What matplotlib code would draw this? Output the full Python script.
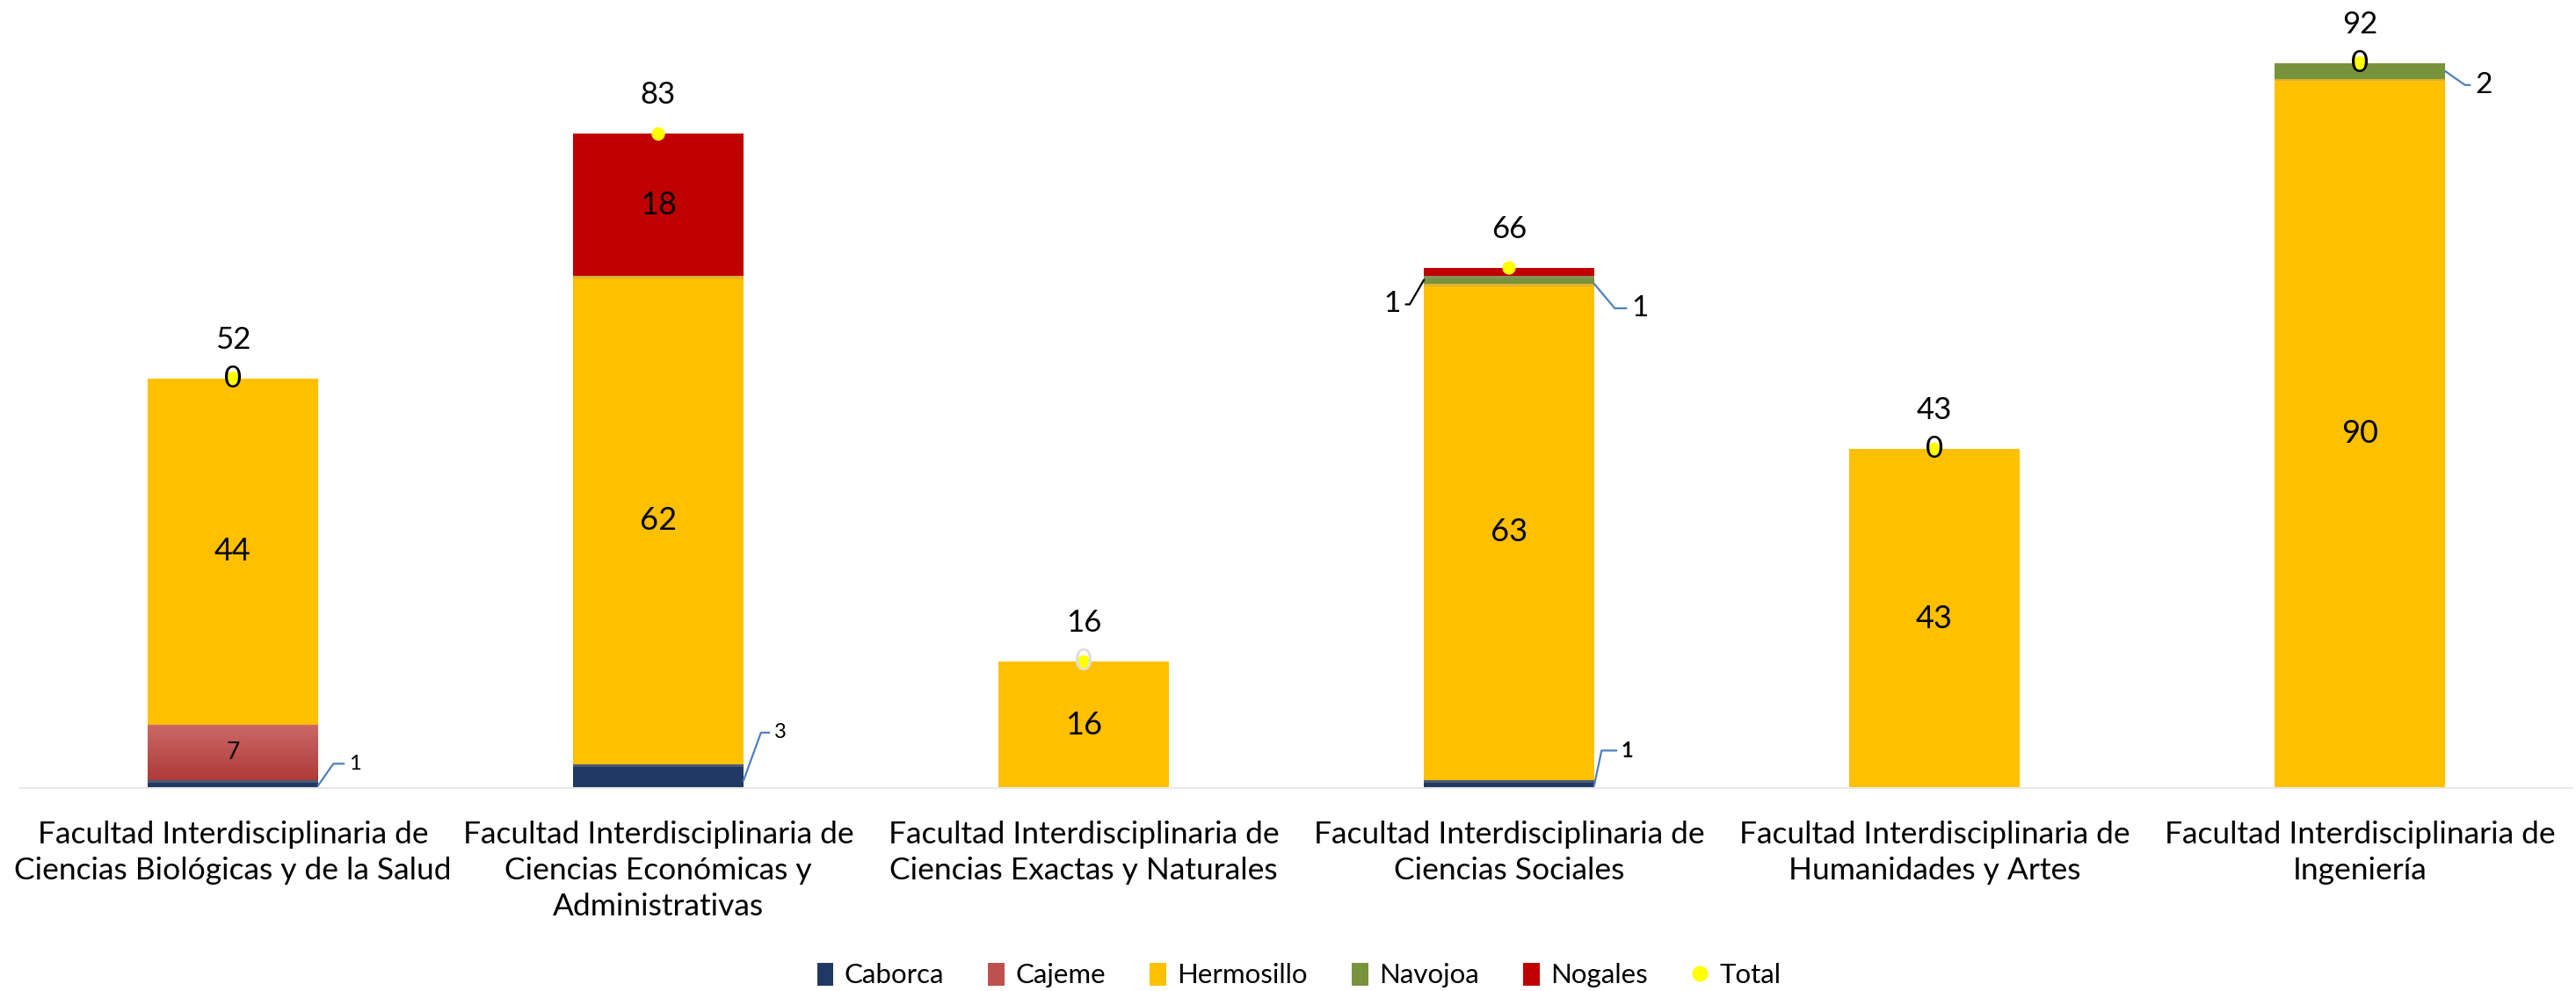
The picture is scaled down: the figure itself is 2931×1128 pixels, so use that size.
import matplotlib
matplotlib.use("Agg")
import matplotlib.pyplot as plt
import numpy as np
from matplotlib.patches import Patch
from matplotlib.lines import Line2D
from matplotlib import patheffects as pe
from matplotlib.colors import LinearSegmentedColormap

categories = [
    "Facultad Interdisciplinaria de\nCiencias Biológicas y de la Salud",
    "Facultad Interdisciplinaria de\nCiencias Económicas y\nAdministrativas",
    "Facultad Interdisciplinaria de\nCiencias Exactas y Naturales",
    "Facultad Interdisciplinaria de\nCiencias Sociales",
    "Facultad Interdisciplinaria de\nHumanidades y Artes",
    "Facultad Interdisciplinaria de\nIngeniería",
]
caborca = [1, 3, 0, 1, 0, 0]
cajeme = [7, 0, 0, 0, 0, 0]
hermosillo = [44, 62, 16, 63, 43, 90]
navojoa = [0, 0, 0, 1, 0, 2]
nogales = [0, 18, 0, 1, 0, 0]
total = [52, 83, 16, 66, 43, 92]
series_names = ["Caborca", "Cajeme", "Hermosillo", "Navojoa", "Nogales"]
series_values = [caborca, cajeme, hermosillo, navojoa, nogales]

colors = {"Caborca": "#203864", "Cajeme": "#C0504D", "Hermosillo": "#FFC000",
          "Navojoa": "#77933C", "Nogales": "#C00000"}
# colour of the "0" label drawn on top of each bar (None = none)
top_zero_color = ["black", None, "#DDDDDD", None, "black", "black"]

FONT = "Lato"
plt.rcParams["font.family"] = [FONT, "DejaVu Sans"]

W, H = 2931, 1128
fig = plt.figure(figsize=(W / 100, H / 100), dpi=100)
ax = fig.add_axes([23 / W, (H - 897) / H, 2904 / W, 897 / H])
x = np.arange(len(categories))
bw = 0.4

bottom = np.zeros(len(categories))
bars = {}
shadow = [pe.SimplePatchShadow(offset=(0, -2), shadow_rgbFace="#999999", alpha=0.35), pe.Normal()]
for name, vals in zip(series_names, series_values):
    vals = np.array(vals, dtype=float)
    b = ax.bar(x, vals, bw, bottom=bottom, color=colors[name], zorder=2,
               linewidth=0)
    for r in b:
        if r.get_height() > 0:
            r.set_path_effects(shadow)
    bars[name] = (b, bottom.copy(), vals)
    bottom = bottom + vals

# gradient for Cajeme
grad = np.linspace(0, 1, 256).reshape(-1, 1)
cmap = LinearSegmentedColormap.from_list("caj", ["#AE3A37", "#CB6967"])
b, bot, vals = bars["Cajeme"]
for i, r in enumerate(b):
    if vals[i] > 0:
        im = ax.imshow(grad, cmap=cmap, aspect="auto", origin="lower",
                       extent=(r.get_x(), r.get_x() + r.get_width(), bot[i], bot[i] + vals[i]),
                       zorder=2.5)
        im.set_clip_path(r)
ax.set_xlim(-0.5, len(categories) - 0.5)
ax.set_ylim(0, 100)

# total markers
ax.plot(x, total, "o", color="#FFFF00", markersize=11, markeredgewidth=0, zorder=4,
        path_effects=[pe.SimpleLineShadow(offset=(0, -1.5), alpha=0.4), pe.Normal()])
for i, t in enumerate(total):
    ax.annotate(str(t), (x[i], t), xytext=(0, 44), textcoords="offset pixels",
                ha="center", va="center", fontsize=25, zorder=5)
    if top_zero_color[i]:
        ax.annotate("0", (x[i], t), xytext=(0, 0), textcoords="offset pixels",
                    ha="center", va="center", fontsize=25, color=top_zero_color[i], zorder=5)

# inside labels
for name in ["Cajeme", "Hermosillo", "Nogales"]:
    b, bot, vals = bars[name]
    for i in range(len(categories)):
        if vals[i] >= 5:
            fs = 19 if name == "Cajeme" else 26
            ax.text(x[i], bot[i] + vals[i] / 2, str(int(vals[i])), ha="center",
                    va="center", fontsize=fs, zorder=5)

# callout labels: (series, bar index, side, point frac, text offset px, angle, color, size, weight)
callouts = [
    ("Caborca", 0, 1, 0.3, (42, 25), 55, "#4F81BD", 17, "normal"),
    ("Caborca", 1, 1, 0.3, (42, 55), 70, "#4F81BD", 17, "normal"),
    ("Caborca", 3, 1, 0.3, (38, 40), 78, "#4F81BD", 17, "bold"),
    ("Navojoa", 3, -1, 0.5, (-36, -28), 60, "black", 24, "normal"),
    ("Navojoa", 3, 1, 0.0, (52, -28), -50, "#4F81BD", 24, "normal"),
    ("Navojoa", 5, 1, 0.5, (44, -16), -35, "#4F81BD", 24, "normal"),
]
for name, i, side, frac, off, ang, col, fs, fw in callouts:
    b, bot, vals = bars[name]
    px = x[i] + side * bw / 2
    py = bot[i] + vals[i] * frac
    ax.annotate(str(int(vals[i])), (px, py), xytext=off, textcoords="offset pixels",
                ha="center", va="center", fontsize=fs, fontweight=fw, zorder=6,
                arrowprops=dict(arrowstyle="-", color=col, lw=1.6,
                                shrinkA=2, shrinkB=0,
                                connectionstyle=f"angle,angleA=0,angleB={ang},rad=0"))

ax.set_xticks(x)
ax.set_xticklabels(categories, fontsize=25.5, linespacing=1.33)
ax.tick_params(axis="x", length=0, pad=27)
ax.set_yticks([])
for s in ["top", "right", "left"]:
    ax.spines[s].set_visible(False)
ax.spines["bottom"].set_color("#E8E8E8")
ax.spines["bottom"].set_linewidth(1.5)

handles = [Patch(facecolor=colors[n], label=n) for n in series_names]
handles.append(Line2D([], [], marker="o", color="none", markerfacecolor="#FFFF00",
                      markeredgewidth=0, markersize=13, label="Total"))
fig.legend(handles=handles, loc="center", bbox_to_anchor=(1478 / W, 1 - 1110 / H),
           ncol=6, frameon=False, fontsize=22.5, handlelength=0.6, handleheight=0.9,
           handletextpad=0.4, columnspacing=1.6)

fig.savefig("out.png", dpi=100)
